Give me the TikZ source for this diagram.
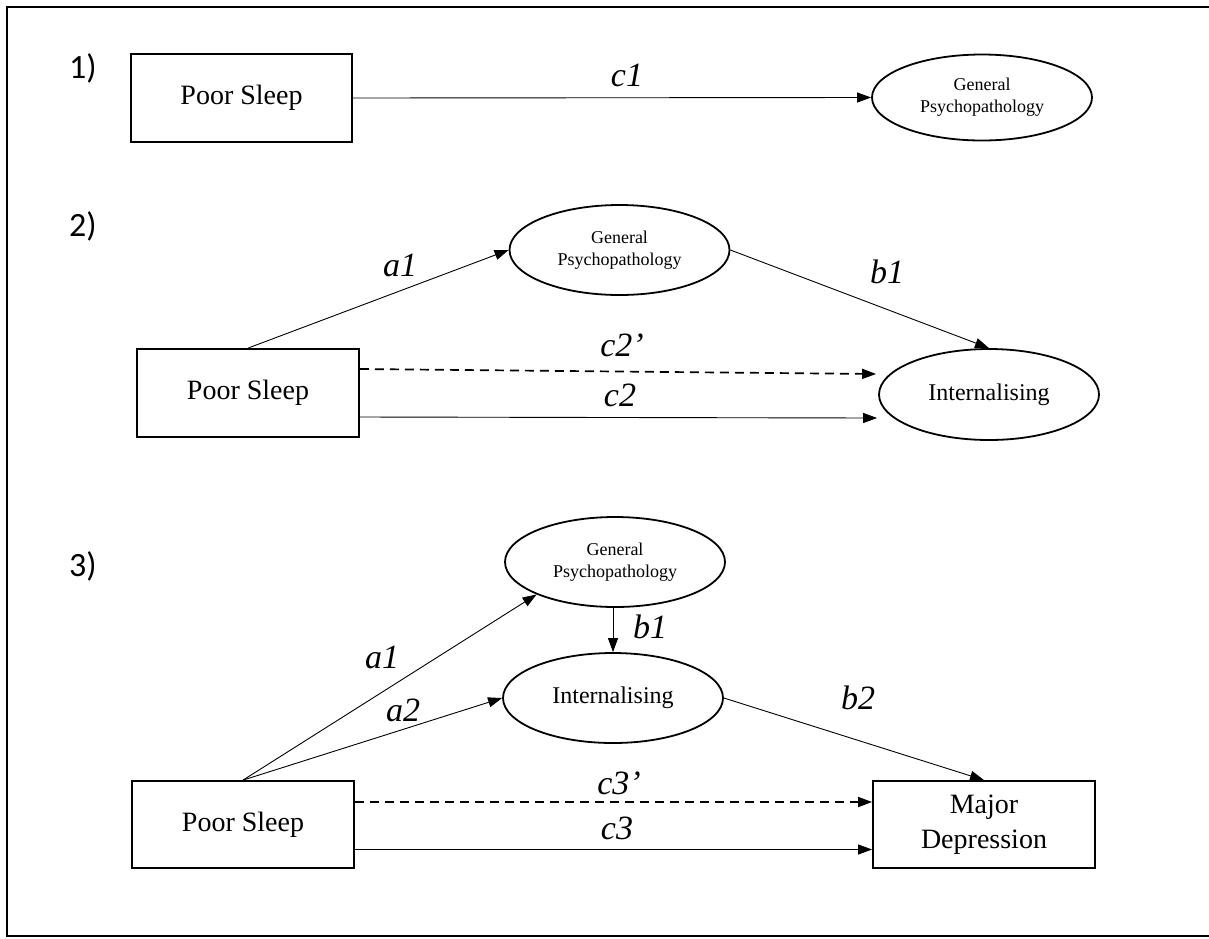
\documentclass[tikz,border=0pt]{standalone}
\usepackage{fontspec}
\setmainfont{Liberation Serif}
\newfontfamily\numfont{Carlito}
\usetikzlibrary{shapes.geometric,arrows.meta}
\begin{document}
\begin{tikzpicture}[x=1pt,y=-1pt,
  box/.style={draw, line width=1.8pt, rectangle, minimum width=222pt, minimum height=88pt, inner sep=0pt, align=center, font=\fontsize{28}{35}\selectfont},
  latent/.style={draw, ellipse, line width=1.8pt, minimum width=220pt, minimum height=90pt, inner sep=0pt, align=center},
  gpfont/.style={font=\fontsize{18}{22}\selectfont},
  intfont/.style={font=\fontsize{24}{28}\selectfont},
  arr/.style={line width=0.9pt, -{Triangle[length=14pt,width=10pt]}},
  darr/.style={arr, line width=1.7pt, dash pattern=on 9pt off 6pt},
  coef/.style={font=\fontsize{34}{40}\selectfont\itshape, inner sep=0pt},
  num/.style={font=\numfont\fontsize{34}{40}\selectfont, inner sep=0pt}]
\useasboundingbox (0,0) rectangle (1209,938);
\draw[line width=2.2pt] (1215,7) -- (7,7) -- (7,936) -- (1215,936);

% ---- 1)
\node[num] (n1) at (83,68) {1)};
\node[box, minimum width=221pt] (ps1) at (241.5,98) {Poor Sleep};
\node[latent, gpfont, minimum height=86pt] (gp1) at (982,97.5) {General\\Psychopathology};
\draw[arr] (ps1.east) -- (gp1.west);
\node[coef] (c1) at (627,75) {c1};

% ---- 2)
\node[num] (n2) at (83,226) {2)};
\node[box] (ps2) at (248,393) {Poor Sleep};
\node[latent, gpfont] (gp2) at (619.5,250) {General\\Psychopathology};
\node[latent, intfont, minimum height=91pt] (int2) at (989,394.5) {Internalising};
\draw[arr] (ps2.north) -- (gp2.west);
\draw[arr] (gp2.east) -- (int2.north);
\coordinate (c2dEnd) at ([xshift=-2pt,yshift=20.5pt]int2.west);
\coordinate (c2End) at ([xshift=-1pt,yshift=-23.5pt]int2.west);
\draw[darr] ([yshift=24pt]ps2.east) -- (c2dEnd);
\draw[arr] ([yshift=-24pt]ps2.east) -- (c2End);
\node[coef] (a1s2) at (400,265) {a1};
\node[coef] (b1s2) at (887,272) {b1};
\node[coef] (c2d) at (622,345) {c2’};
\node[coef] (c2) at (620,395) {c2};

% ---- 3)
\node[num] (n3) at (83,566) {3)};
\node[box, minimum height=87pt] (ps3) at (243,824.5) {Poor Sleep};
\node[box, minimum height=87pt] (md) at (984,824.5) {Major\\Depression};
\node[latent, gpfont] (gp3) at (615,562) {General\\Psychopathology};
\node[latent, intfont] (int3) at (613,698) {Internalising};
\draw[arr] (ps3.north) -- (gp3.south west);
\draw[arr] (ps3.north) -- (int3.west);
\draw[arr] (gp3.south -| int3.north) -- (int3.north);
\draw[arr] (int3.east) -- (md.north);
\draw[darr] ([yshift=22.5pt]ps3.east) -- ([yshift=22.5pt]md.west);
\draw[arr] ([yshift=-25pt]ps3.east) -- ([yshift=-25pt]md.west);
\node[coef] (b1s3) at (650,627) {b1};
\node[coef] (a1s3) at (382,657) {a1};
\node[coef] (a2s3) at (403,710) {a2};
\node[coef] (b2s3) at (858,698) {b2};
\node[coef] (c3d) at (619,783) {c3’};
\node[coef] (c3) at (617,828) {c3};
\end{tikzpicture}
\end{document}
